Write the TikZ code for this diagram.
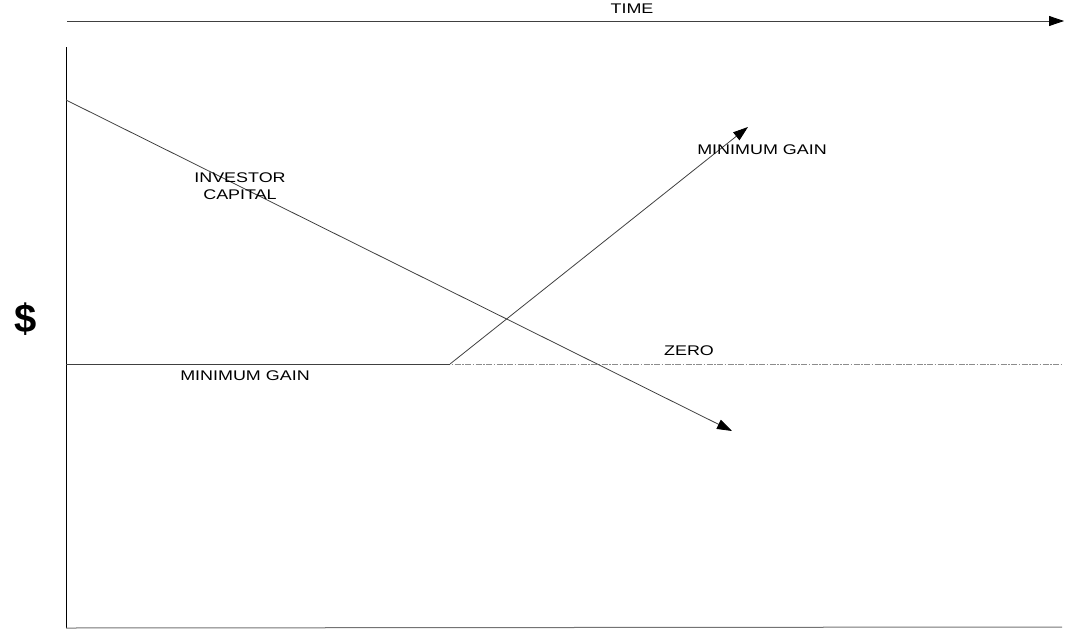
\documentclass[tikz,border=0pt]{standalone}
\usepackage{fontspec}
\setmainfont{Liberation Sans}
\usetikzlibrary{arrows.meta}
\tikzset{
  lbl/.style={inner sep=0pt, font=\fontsize{14}{14}\selectfont},
  ln/.style={line width=0.8pt, draw=black!75},
  arr/.style={ln, -{Triangle[length=15pt,width=10pt,color=black,fill=black]}},
}
\newcommand{\widetxt}[1]{\scalebox{1.28}[1]{#1}}
\begin{document}
\begin{tikzpicture}[x=1pt,y=-1pt]
\useasboundingbox (0,0) rectangle (1067,629);
% axes
\coordinate (t0) at (67,21);
\coordinate (t1) at (1064,21);
\draw[arr] (t0) -- (t1);
\node[lbl] (time) at (632,8.5) {\widetxt{TIME}};
\coordinate (y0) at (66,47);
\coordinate (y1) at (66,628);
\coordinate (b1) at (1062,627);
\draw[line width=0.8pt, black] (y0) -- (y1);
\draw[line width=1pt, black!55] (y1) -- (b1);
\node[inner sep=0pt, font=\fontsize{40}{40}\selectfont\bfseries] (dollar) at (26,319) {\$};
% zero line
\coordinate (z0) at (66,364);
\coordinate (z1) at (1062,364);
\draw[line width=1pt, black!45, dash pattern=on 6pt off 1.5pt on 1.5pt off 1.5pt] (z0) -- (z1);
\node[lbl] (zero) at (689,351) {\widetxt{ZERO}};
% minimum gain
\coordinate (m0) at (66,364);
\coordinate (m1) at (450,364);
\coordinate (m2) at (748,127);
\draw[ln] (m0) -- (m1);
\draw[arr] (m1) -- (m2);
\node[lbl] (mgl) at (245,375.5) {\widetxt{MINIMUM GAIN}};
\node[lbl] (mgu) at (762,150) {\widetxt{MINIMUM GAIN}};
% investor capital
\coordinate (c0) at (66,100);
\coordinate (c1) at (732,431);
\draw[arr] (c0) -- (c1);
\node[lbl, align=center] (cap) at (240,186) {\widetxt{INVESTOR}\\[3pt]\widetxt{CAPITAL}};
\end{tikzpicture}
\end{document}
